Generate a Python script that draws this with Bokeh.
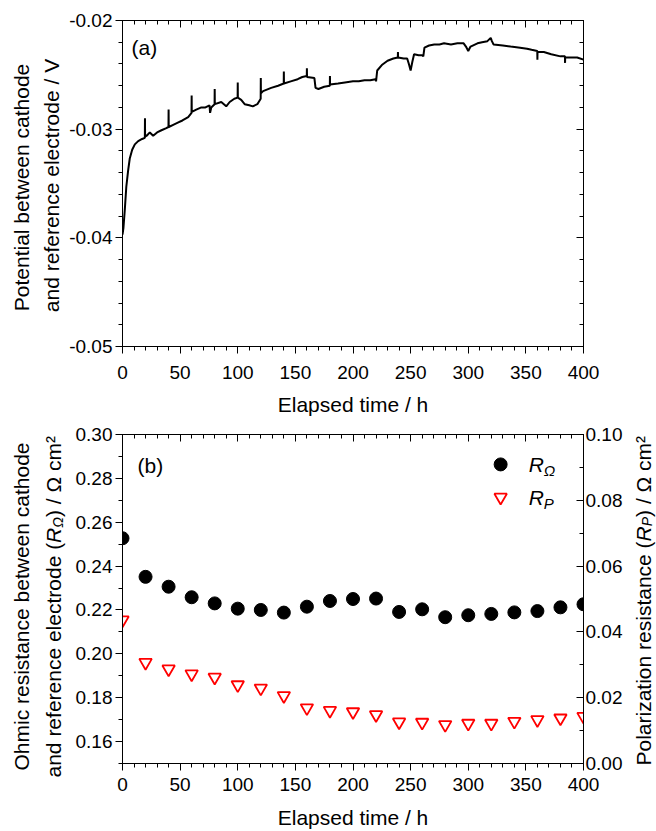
from math import pi
from bokeh.plotting import figure
from bokeh.models import (Range1d, LinearAxis, Label, FixedTicker,
                          PrintfTickFormatter, CustomJSTickFormatter)
from bokeh.layouts import column, row
from bokeh.embed import file_html
from bokeh.resources import INLINE

FONT = "Liberation Sans"
TICK_SIZE = "19px"
TITLE_SIZE = 21
SUB_SIZE = 14

# ---------------- data: panel (a) potential trace ----------------
hours_a = [0, 0.8, 2, 3.3, 4.9, 6.3, 8.4, 10.7, 13.6, 17, 19.4, 19.5, 19.6, 21,
           23.7, 26.6, 30, 33.8, 38, 39.9, 40, 40.1, 44, 48, 52, 57, 59.9, 60,
           60.1, 64, 68.4, 72, 75.5, 76, 77, 79.9, 80, 80.1, 85.7, 90, 93, 97,
           99.9, 100, 100.1, 103, 106, 110, 113, 117, 119.9, 120, 120.1, 122,
           129, 135, 139.9, 140, 140.1, 146, 152, 156, 159.9, 160, 160.1,
           166.5, 167.5, 170, 175, 179.9, 180, 180.1, 187, 193, 200, 205, 210,
           215, 219.5, 220, 221, 225, 230, 235, 238.9, 239, 239.1, 244, 247,
           248.5, 250, 251.5, 253, 257, 260, 261, 262, 266, 270.5, 275, 279,
           285, 290.6, 296, 298, 300, 302, 308, 312, 316.6, 319.5, 320.5, 322,
           330, 336.8, 345, 351, 355, 359.9, 360, 360.1, 365.6, 372, 380,
           383.9, 384, 384.1, 390, 394.5, 400]
potential_a = [-0.0397, -0.0391, -0.0374, -0.0353, -0.0338, -0.0327, -0.0319,
               -0.0314, -0.0311, -0.0309, -0.0308, -0.0290, -0.0307, -0.0306,
               -0.0303, -0.0306, -0.0303, -0.0301, -0.0299, -0.0298, -0.0282,
               -0.0298, -0.0296, -0.0294, -0.0292, -0.0289, -0.0285, -0.0269,
               -0.0284, -0.0282, -0.0280, -0.0280, -0.0278, -0.0285, -0.0280,
               -0.0277, -0.0263, -0.0277, -0.0275, -0.0279, -0.0275, -0.0272,
               -0.0271, -0.0257, -0.0271, -0.0273, -0.0277, -0.0278, -0.0279,
               -0.0277, -0.0272, -0.0253, -0.0267, -0.0265, -0.0262, -0.0260,
               -0.0258, -0.0247, -0.0258, -0.0256, -0.0254, -0.0252, -0.0251,
               -0.0244, -0.0252, -0.0253, -0.0262, -0.0263, -0.0261, -0.0260,
               -0.0251, -0.0259, -0.0258, -0.0257, -0.0256, -0.0256, -0.0255,
               -0.0255, -0.0254, -0.0256, -0.0246, -0.0241, -0.0237, -0.0235,
               -0.0234, -0.0229, -0.0234, -0.0235, -0.0235, -0.0240, -0.0246,
               -0.0238, -0.0231, -0.0232, -0.0232, -0.0233, -0.0225, -0.0223,
               -0.0222, -0.0222, -0.0221, -0.0222, -0.0221, -0.0221, -0.0224,
               -0.0228, -0.0224, -0.0221, -0.0220, -0.0219, -0.0216, -0.0219,
               -0.0222, -0.0223, -0.0224, -0.0225, -0.0226, -0.0227, -0.0228,
               -0.0236, -0.0229, -0.0229, -0.0231, -0.0233, -0.0233, -0.0239,
               -0.0234, -0.0234, -0.0234, -0.0236]

# ---------------- data: panel (b) resistances ----------------
hours_b = [0, 20, 40, 60, 80, 100, 120, 140, 160, 180, 200, 220, 240, 260,
           280, 300, 320, 340, 360, 380, 400]
r_ohm = [0.2527, 0.2351, 0.2306, 0.2258, 0.2230, 0.2206, 0.2200, 0.2188,
         0.2215, 0.2241, 0.2250, 0.2252, 0.2191, 0.2203, 0.2167, 0.2176,
         0.2182, 0.2189, 0.2195, 0.2212, 0.2226]
r_pol = [0.0436, 0.0307, 0.0287, 0.0272, 0.0262, 0.0239, 0.0229, 0.0206,
         0.0169, 0.0161, 0.0157, 0.0148, 0.0126, 0.0125, 0.0118, 0.0122,
         0.0122, 0.0128, 0.0133, 0.0138, 0.0143]

x_ticks = list(range(0, 401, 50))
x_minor = list(range(0, 401, 10))
ya_ticks = [-0.05, -0.04, -0.03, -0.02]
ya_minor = [round(-0.05 + 0.002 * i, 3) for i in range(16)]
yb_ticks = [round(0.16 + 0.02 * i, 2) for i in range(8)]
yb_minor = [round(0.15 + 0.01 * i, 2) for i in range(16)]
yr_ticks = [round(0.02 * i, 2) for i in range(6)]
yr_minor = [round(0.01 * i, 2) for i in range(11)]

# Arial / Liberation Sans advance widths (1/1000 em)
AW = {' ': 278, '(': 333, ')': 333, '/': 278, 'a': 556, 'c': 500, 'd': 556,
      'e': 556, 'f': 278, 'i': 222, 'l': 222, 'm': 833, 'n': 556, 'o': 556,
      'r': 333, 's': 500, 't': 278, 'z': 500, 'P': 667, 'R': 722, 'Ω': 768,
      '²': 333, 'b': 556, 'w': 722, 'h': 556, 'O': 778, 'V': 667}


def tw(s, size):
    return sum(AW.get(c, 556) for c in s) * size / 1000.0


def style_axis(ax, inward=False, labels=True):
    ax.axis_line_color = "black"
    ax.axis_line_width = 1
    ax.major_tick_line_color = "black"
    ax.minor_tick_line_color = "black"
    if inward:
        ax.major_tick_in, ax.major_tick_out = 7, 0
        ax.minor_tick_in, ax.minor_tick_out = 4, 0
    else:
        ax.major_tick_in, ax.major_tick_out = 0, 7
        ax.minor_tick_in, ax.minor_tick_out = 0, 4
    ax.major_label_text_font = FONT
    ax.major_label_text_color = "black"
    ax.major_label_text_font_size = TICK_SIZE
    ax.axis_label_text_font = FONT
    ax.axis_label_text_font_size = f"{TITLE_SIZE}px"
    ax.axis_label_text_font_style = "normal"
    ax.axis_label_text_color = "black"
    if not labels:
        ax.formatter = CustomJSTickFormatter(code="return ''")
        ax.major_label_text_font_size = "0px"
        ax.major_label_standoff = 0


def add_label(p, x, y, text, size=TITLE_SIZE, angle=0.0, align="left",
              baseline="middle", style="normal", xo=0, yo=0):
    p.add_layout(Label(x=x, y=y, text=text, angle=angle, text_align=align,
                       text_baseline=baseline, text_font=FONT,
                       text_font_size=f"{size}px", text_font_style=style,
                       text_color="black", x_offset=xo, y_offset=yo))


def label_fig(width, height):
    """A bare canvas whose data units are its own pixels (y downward)."""
    f = figure(width=width, height=height, x_range=Range1d(0, width),
               y_range=Range1d(height, 0), output_backend="svg",
               toolbar_location=None, x_axis_location=None,
               y_axis_location=None, min_border=0)
    f.min_border_left = f.min_border_right = 0
    f.min_border_top = f.min_border_bottom = 0
    f.outline_line_color = None
    f.xgrid.visible = False
    f.ygrid.visible = False
    f.background_fill_color = "white"
    f.border_fill_color = "white"
    return f


def vtext(f, xc, yc, pieces):
    """Rotated (reading upward) text built from pieces, centred at (xc, yc).
    pieces: (text, size, style, dx)."""
    total = sum(tw(t, s) for t, s, st, dx in pieces)
    y = yc + total / 2.0
    for t, s, st, dx in pieces:
        add_label(f, xc + dx, y, t, size=s, angle=pi / 2, align="left",
                  baseline="middle", style=st)
        y -= tw(t, s)


def base_fig(width, height, ylo, yhi, left, right, top, bottom):
    p = figure(width=width, height=height, x_range=Range1d(0, 400),
               y_range=Range1d(ylo, yhi), output_backend="svg",
               toolbar_location=None, min_border_left=left,
               min_border_right=right, min_border_top=top,
               min_border_bottom=bottom)
    p.xgrid.visible = False
    p.ygrid.visible = False
    p.outline_line_color = "black"
    p.outline_line_width = 1
    p.background_fill_color = "white"
    p.border_fill_color = "white"
    p.xaxis.ticker = FixedTicker(ticks=x_ticks, minor_ticks=x_minor)
    p.xaxis.formatter = PrintfTickFormatter(format="%d")
    style_axis(p.xaxis[0])
    p.xaxis.axis_label = "Elapsed time / h"
    top_ax = LinearAxis(ticker=FixedTicker(ticks=x_ticks, minor_ticks=x_minor))
    style_axis(top_ax, inward=True, labels=False)
    p.add_layout(top_ax, "above")
    return p


# ---------------- panel (a) ----------------
pa = base_fig(562, 418, -0.05, -0.02, 55, 45, 20, 71)
pa.xaxis.major_label_standoff = 12
pa.xaxis.axis_label_standoff = 11
pa.yaxis.ticker = FixedTicker(ticks=ya_ticks, minor_ticks=ya_minor)
pa.yaxis.formatter = PrintfTickFormatter(format="%.2f")
style_axis(pa.yaxis[0])
pa.yaxis.major_label_standoff = 3
ra = LinearAxis(ticker=FixedTicker(ticks=ya_ticks, minor_ticks=ya_minor))
style_axis(ra, inward=True, labels=False)
pa.add_layout(ra, "right")

pa.line(hours_a, potential_a, line_color="black", line_width=2)
add_label(pa, 7.8, -0.02248, "(a)")

# ---------------- panel (b) ----------------
pb = base_fig(562, 413, 0.15, 0.30, 55, 45, 16, 67)
pb.xaxis.major_label_standoff = 7
pb.xaxis.axis_label_standoff = 12
pb.yaxis.ticker = FixedTicker(ticks=yb_ticks, minor_ticks=yb_minor)
pb.yaxis.formatter = PrintfTickFormatter(format="%.2f")
style_axis(pb.yaxis[0])
pb.yaxis.major_label_standoff = 3
pb.extra_y_ranges = {"rp": Range1d(0, 0.10)}
rb = LinearAxis(y_range_name="rp",
                ticker=FixedTicker(ticks=yr_ticks, minor_ticks=yr_minor),
                formatter=PrintfTickFormatter(format="%.2f"))
style_axis(rb, inward=True)
rb.major_label_standoff = 2
pb.add_layout(rb, "right")

pb.scatter(hours_b, r_ohm, marker="circle", size=13, fill_color="black",
           line_color="black")
pb.scatter(hours_b, r_pol, y_range_name="rp", marker="inverted_triangle",
           size=12.5, fill_color="white", line_color="red", line_width=1.8)

# legend (swatches + italic labels with subscripts)
pb.scatter([328.1], [0.28636], marker="circle", size=13, fill_color="black",
           line_color="black")
pb.scatter([328.1], [0.27136], marker="inverted_triangle", size=12.5,
           fill_color="white", line_color="red", line_width=1.8)
add_label(pb, 352.4, 0.28636, "R", style="italic")
add_label(pb, 352.4, 0.28636, "Ω", size=15, style="italic",
          xo=tw("R", TITLE_SIZE), yo=-6)
add_label(pb, 352.4, 0.27136, "R", style="italic")
add_label(pb, 352.4, 0.27136, "P", size=15, style="italic",
          xo=tw("R", TITLE_SIZE), yo=-6)
add_label(pb, 13.0, 0.2859, "(b)")

# ---------------- side label canvases (pixel coordinates) ----------------
left = label_fig(66, 831)
vtext(left, 21, 187, [("Potential between cathode", TITLE_SIZE, "normal", 0)])
vtext(left, 50.5, 185, [("and reference electrode / V", TITLE_SIZE, "normal",
                         0)])
vtext(left, 21, 606, [("Ohmic resistance between cathode", TITLE_SIZE,
                       "normal", 0)])
vtext(left, 53, 606, [
    ("and reference electrode (", TITLE_SIZE, "normal", 0),
    ("R", TITLE_SIZE, "italic", 0),
    ("Ω", SUB_SIZE, "italic", 4),
    (") / Ω cm²", TITLE_SIZE, "normal", 0),
])

right = label_fig(28, 831)
vtext(right, 15, 600, [
    ("Polarization resistance (", TITLE_SIZE, "normal", 0),
    ("R", TITLE_SIZE, "italic", 0),
    ("P", SUB_SIZE, "italic", 3),
    (") / Ω cm²", TITLE_SIZE, "normal", 0),
])

layout = row(left, column(pa, pb, spacing=0), right, spacing=0)
open("out.html", "w").write(file_html(layout, INLINE))
